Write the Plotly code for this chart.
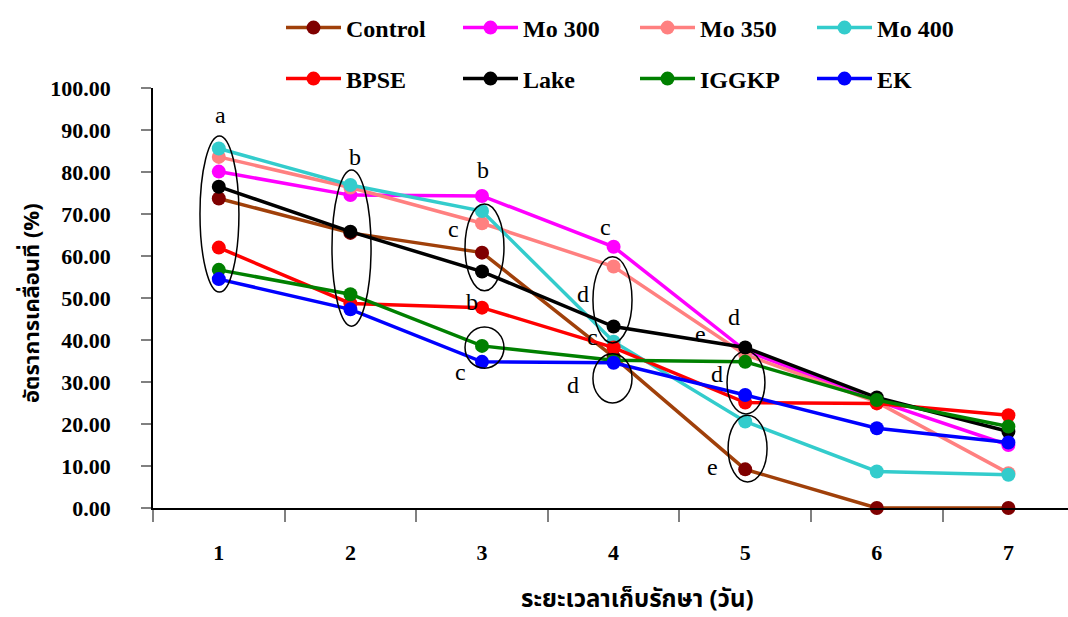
import plotly.graph_objects as go

# Storage time (days)
days = [1, 2, 3, 4, 5, 6, 7]
day_labels = ["1", "2", "3", "4", "5", "6", "7"]

# Motility (%) per treatment
control = [73.7, 65.5, 60.8, 36.0, 9.2, 0.0, 0.0]
mo300 = [80.1, 74.5, 74.3, 62.2, 37.5, 25.5, 15.0]
mo350 = [83.6, 76.3, 67.8, 57.5, 36.5, 25.2, 8.3]
mo400 = [85.6, 76.9, 70.7, 39.6, 20.6, 8.7, 7.9]
bpse = [62.0, 48.7, 47.7, 38.2, 25.1, 24.9, 22.1]
lake = [76.5, 65.8, 56.3, 43.2, 38.2, 26.3, 18.2]
iggkp = [56.7, 50.9, 38.6, 35.2, 34.8, 25.7, 19.4]
ek = [54.5, 47.3, 34.8, 34.6, 26.9, 19.0, 15.6]

series = [
    ("Control", control, "#A0400A", "#7F0000", "legend"),
    ("Mo 300", mo300, "#FF00FF", "#FF00FF", "legend"),
    ("Mo 350", mo350, "#FF8080", "#FF8080", "legend"),
    ("Mo 400", mo400, "#33CCCC", "#33CCCC", "legend"),
    ("BPSE", bpse, "#FF0000", "#FF0000", "legend2"),
    ("Lake", lake, "#000000", "#000000", "legend2"),
    ("IGGKP", iggkp, "#008000", "#008000", "legend2"),
    ("EK", ek, "#0000FF", "#0000FF", "legend2"),
]

# Significance letters: (day position, y value, letter)
letters = [
    (1.01, 93.6, "a"), (2.035, 83.6, "b"), (3.008, 80.5, "b"),
    (2.78, 66.4, "c"), (2.924, 49.0, "b"), (2.833, 32.4, "c"),
    (3.942, 66.9, "c"), (3.768, 51.0, "d"), (3.836, 40.7, "c"),
    (3.69, 29.3, "d"), (4.664, 41.4, "e"), (4.915, 45.5, "d"),
    (4.786, 31.9, "d"), (4.755, 9.8, "e"),
]

# Groupings circled on the chart: (x0, x1, y0, y1)
groups = [
    (0.857, 1.153, 51.4, 88.6),
    (1.860, 2.157, 43.3, 80.5),
    (2.871, 3.167, 51.7, 72.4),
    (2.871, 3.167, 33.3, 43.1),
    (3.843, 4.140, 39.3, 59.8),
    (3.843, 4.140, 25.0, 36.7),
    (4.862, 5.150, 22.4, 37.4),
    (4.870, 5.166, 6.2, 22.1),
]

serif = "Liberation Serif, Times New Roman, serif"
thai = "Noto Sans Thai, Loma, Garuda, Tlwg Typo, sans-serif"

fig = go.Figure()
for name, vals, line_col, mark_col, leg in series:
    fig.add_trace(go.Scatter(
        x=days, y=vals, name=name, mode="lines+markers",
        line=dict(color=line_col, width=3.5),
        marker=dict(color=mark_col, size=14),
        legend=leg, cliponaxis=False,
    ))

for x0, x1, y0, y1 in groups:
    fig.add_shape(type="circle", xref="x", yref="y", x0=x0, x1=x1, y0=y0, y1=y1,
                  line=dict(color="black", width=1.5))

for x, y, t in letters:
    fig.add_annotation(x=x, y=y, text=t, showarrow=False,
                       font=dict(family=serif, size=24, color="black"))

# Axis titles
fig.add_annotation(xref="paper", yref="paper", x=(637 - 153) / 915, y=(508 - 600) / 420,
                   xanchor="center", yanchor="middle",
                   text="ระยะเวลาเก็บรักษา (วัน)", showarrow=False,
                   font=dict(family=thai, size=24, color="black", weight="bold"))
fig.add_annotation(xref="paper", yref="paper", x=(32 - 153) / 915, y=(508 - 303) / 420,
                   xanchor="center", yanchor="middle",
                   text="อัตราการเคลื่อนที่ (%)", showarrow=False, textangle=-90,
                   font=dict(family=thai, size=22, color="black", weight="bold"))

legend_font = dict(family=serif, size=24, color="black", weight="bold")
legend_common = dict(orientation="h", x=(281 - 153) / 915, xanchor="left",
                     yanchor="middle", entrywidth=107, entrywidthmode="pixels",
                     itemwidth=55, font=legend_font, bgcolor="rgba(0,0,0,0)")
fig.update_layout(
    width=1068, height=617,
    margin=dict(l=153, r=0, t=88, b=109, autoexpand=False),
    plot_bgcolor="white", paper_bgcolor="white",
    legend=dict(y=(508 - 28) / 420, **legend_common),
    legend2=dict(y=(508 - 79) / 420, **legend_common),
    xaxis=dict(range=[0.5, 0.5 + 915 / 131.6], tickvals=days, ticktext=day_labels,
               ticks="", ticklabelstandoff=24, showgrid=False, zeroline=False,
               showline=True, linecolor="black", linewidth=1.5,
               tickfont=dict(family=serif, size=22, color="black", weight="bold"),
               minor=dict(tick0=0.5, dtick=1, ticks="outside", ticklen=12,
                          tickcolor="#808080", tickwidth=1.5, showgrid=False)),
    yaxis=dict(range=[0, 100], dtick=10, tickformat=".2f", ticks="outside",
               ticklen=10, tickcolor="#808080", tickwidth=1.5,
               ticklabelstandoff=26, showgrid=False, zeroline=False,
               showline=True, linecolor="black", linewidth=1.5,
               tickfont=dict(family=serif, size=22, color="black", weight="bold")),
)

fig.write_html("out.html")
